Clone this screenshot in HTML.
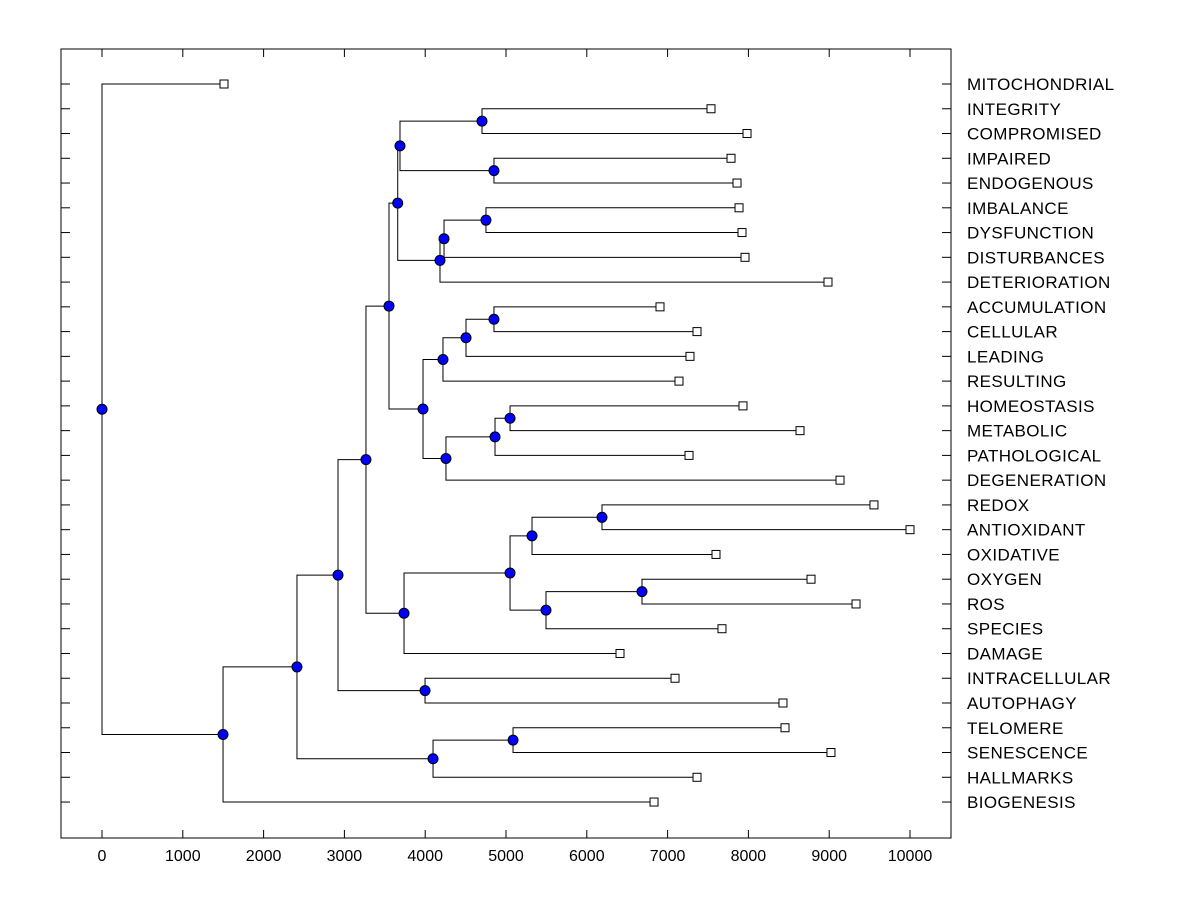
<!DOCTYPE html>
<html><head><meta charset="utf-8"><style>
body{margin:0;background:#fff;}
svg{display:block;font-family:"Liberation Sans",Arial,sans-serif;}
</style></head><body>
<svg id="c" width="1200" height="900"></svg>
<script>
const leafNames=["MITOCHONDRIAL","INTEGRITY","COMPROMISED","IMPAIRED","ENDOGENOUS","IMBALANCE","DYSFUNCTION","DISTURBANCES","DETERIORATION","ACCUMULATION","CELLULAR","LEADING","RESULTING","HOMEOSTASIS","METABOLIC","PATHOLOGICAL","DEGENERATION","REDOX","ANTIOXIDANT","OXIDATIVE","OXYGEN","ROS","SPECIES","DAMAGE","INTRACELLULAR","AUTOPHAGY","TELOMERE","SENESCENCE","HALLMARKS","BIOGENESIS"];
const leafValues=[1510,7537,7983,7785,7859,7884,7921,7958,8985,6906,7364,7277,7141,7933,8639,7265,9134,9554,10000,7599,8775,9332,7673,6411,7092,8428,8453,9022,7364,6832];
// internal nodes: [name, height, childA, childB]; children are leaf indices (numbers) or node names
const nodeNames=["Z","AA","X","CC","BB","Y","P","U","T","R","W","V","S","Q","H","M","K","N","L","J","I","G","F","C","E","D","B","A","ROOT"];
const nodeHeights=[4703,4851,3688,4752,4233,4183,3660,4851,4505,4220,5050,4864,4257,3973,3552,6188,5322,6683,5495,5050,3738,3998,3267,2921,5087,4097,2413,1498,0];
const nodeChildren=[[1,2],[3,4],["Z","AA"],[5,6],["CC",7],["BB",8],["X","Y"],[9,10],["U",11],["T",12],[13,14],["W",15],["V",16],["R","S"],["P","Q"],[17,18],["M",19],[20,21],["N",22],["K","L"],["J",23],[24,25],["H","I"],["F","G"],[26,27],["E",28],["C","D"],["B",29],["mito0","A"]];
const xTicks=[0,1000,2000,3000,4000,5000,6000,7000,8000,9000,10000];

const svg=document.getElementById('c');
const NS='http://www.w3.org/2000/svg';
const L=61,R=951,T=49,B=838;
const xs=v=>102+v*0.0808;
const ys=i=>84+i*24.76;
function mk(tag,attrs,name,inter,parent){const e=document.createElementNS(NS,tag);for(const k in attrs)e.setAttribute(k,attrs[k]);


(parent||svg).appendChild(e);return e;}
mk('rect',{x:L,y:T,width:R-L,height:B-T,fill:'none',stroke:'#000','stroke-width':1},'plot-frame',false);
xTicks.forEach(t=>{const x=xs(t);
mk('line',{x1:x,x2:x,y1:B,y2:B-8,stroke:'#000'},'x-tick',false);
mk('line',{x1:x,x2:x,y1:T,y2:T+8,stroke:'#000'},'x-tick-top',false);
const tx=mk('text',{x:x,y:861,'text-anchor':'middle','font-size':16},'x-tick-label',false);tx.textContent=t;});
leafNames.forEach((n,i)=>{const y=ys(i);
mk('line',{x1:L,x2:L+9,y1:y,y2:y,stroke:'#000'},'y-tick',false);
mk('line',{x1:R-9,x2:R,y1:y,y2:y,stroke:'#000'},'y-tick-right',false);
const tx=mk('text',{x:967,y:y+6,'font-size':17,'letter-spacing':0.4},'leaf-label',false);tx.textContent=n;});
const pos={};
leafValues.forEach((v,i)=>{pos[i]={x:xs(v),y:ys(i)};});
const lines=mk('g',{},'dendrogram-links',false);
const marks=[];
nodeNames.forEach((n,k)=>{const [a,b]=nodeChildren[k].map(c=>c==="mito0"?0:c);
const pa=pos[a],pb=pos[b];const x=xs(nodeHeights[k]);const y=(pa.y+pb.y)/2;pos[n]={x,y};
mk('path',{d:`M${pa.x},${pa.y}H${x}V${pb.y}H${pb.x}`,fill:'none',stroke:'#000','stroke-width':1},'link-'+n.toLowerCase(),false,lines);
marks.push({x,y,n});});
leafValues.forEach((v,i)=>{const p=pos[i];
mk('rect',{x:p.x-4,y:p.y-4,width:8,height:8,fill:'#fff',stroke:'#000'},'leaf-marker',false);});
marks.forEach(m=>{mk('circle',{cx:m.x,cy:m.y,r:5,fill:'#0000ff',stroke:'#000','stroke-width':1},'node-marker',false);});
</script>
</body></html>
